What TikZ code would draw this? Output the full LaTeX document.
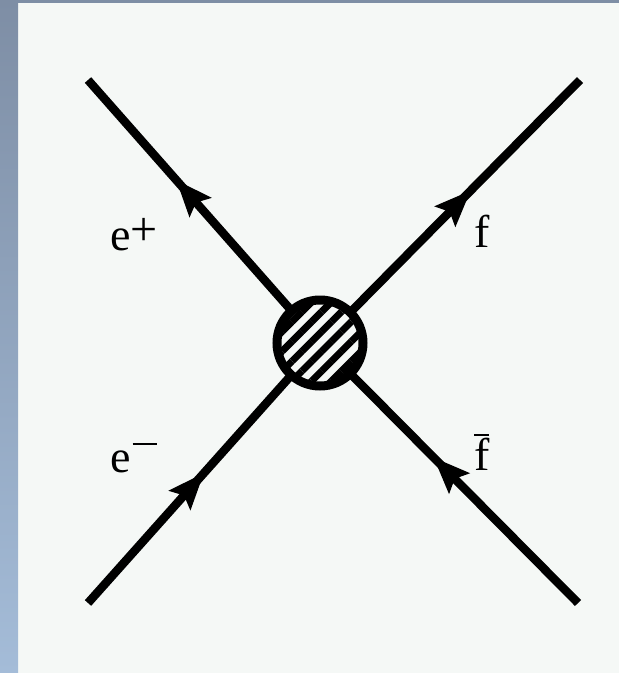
\documentclass[tikz,border=0pt]{standalone}
\usepackage{fontspec}
\setmainfont{Liberation Serif}
\usetikzlibrary{arrows.meta,decorations.markings,patterns.meta}
\definecolor{paper}{HTML}{F5F8F6}
\definecolor{frametop}{HTML}{7E8EA5}
\definecolor{framebot}{HTML}{A4BCD8}
\newcommand{\fbarsym}{\rlap{\raisebox{0.74em}{\rule{0.33em}{0.04em}}}f}
\newcommand{\supsym}[2]{\raisebox{#1}{\fontsize{48}{48}\selectfont #2}}
\newcommand{\minussym}{\kern2pt\raisebox{27pt}{\rule{24pt}{2pt}}}
\tikzset{
  fermion/.style={line width=8.5pt, draw=black, postaction={decorate},
                  decoration={markings, mark=at position #1 with
                  {\arrow{Stealth[length=36pt,width=28pt,inset=6pt]}}}},
  blob/.style={circle, draw=black, line width=9pt, minimum size=86pt,
               inner sep=0pt, preaction={fill=paper},
               pattern={Lines[angle=45,distance=14pt,line width=7pt]}},
  lbl/.style={font=\fontsize{46}{50}\selectfont, anchor=base west,
              inner sep=0pt, text=black},
}

\begin{document}
\begin{tikzpicture}[x=1pt,y=-1pt]
  \useasboundingbox (0,0) rectangle (619,673);
  \fill[paper] (0,0) rectangle (619,673);
  \shade[top color=frametop, bottom color=framebot] (0,0) rectangle (18,673);
  \fill[frametop] (0,0) rectangle (619,3);

  % external legs and vertex
  \coordinate (ep) at (88,80);
  \coordinate (fo) at (580,80);
  \coordinate (em) at (88,603);
  \coordinate (fb) at (578,603);
  \coordinate (vtx) at (320,343);

  \draw[fermion=0.5]  (em) -- (vtx);
  \draw[fermion=0.62] (vtx) -- (ep);
  \draw[fermion=0.58] (vtx) -- (fo);
  \draw[fermion=0.56] (fb) -- (vtx);

  \node[blob] (blb) at (vtx) {};

  \node[lbl] (lep) at (110,250) {e\supsym{5pt}{+}};
  \node[lbl] (lfo) at (474,247) {f};
  \node[lbl] (lem) at (110,472) {e\minussym};
  \node[lbl] (lfb) at (474,470) {\fbarsym};
\end{tikzpicture}
\end{document}
